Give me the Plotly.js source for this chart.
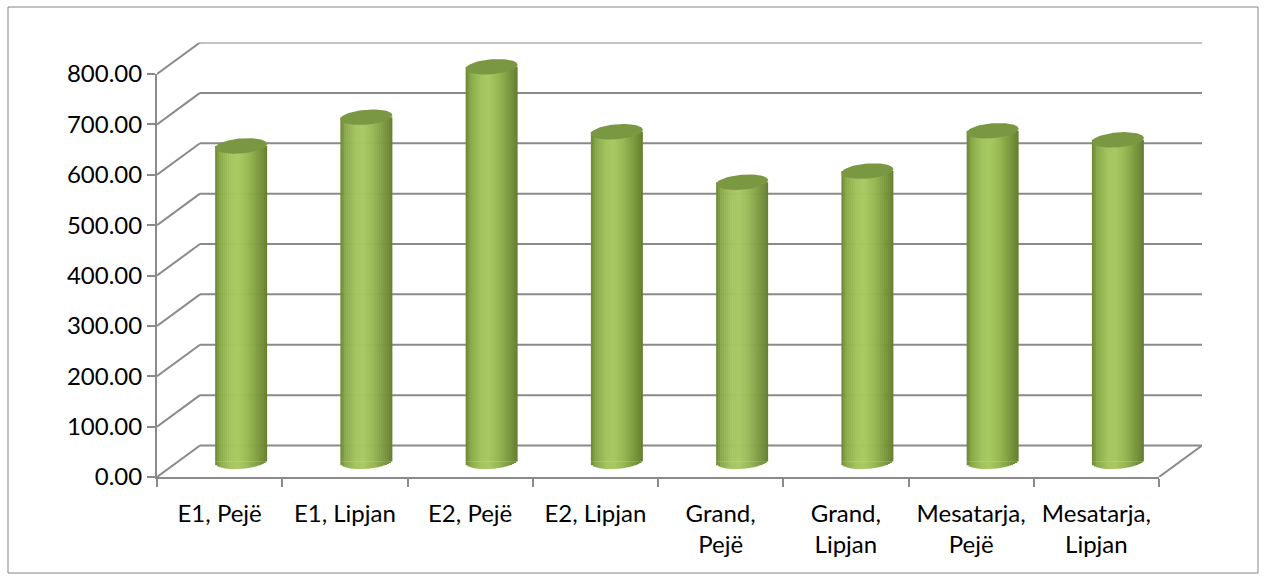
<!DOCTYPE html>
<html>
<head>
<meta charset="utf-8">
<script src="https://cdn.plot.ly/plotly-3.0.1.min.js"></script>
<style>
  html, body { margin: 0; padding: 0; background: #ffffff; }
  #chart { width: 1266px; height: 580px; }
</style>
</head>
<body>
<div id="chart"></div>
<script>
// ---- data ----
const categories = ['E1, Pejë', 'E1, Lipjan', 'E2, Pejë', 'E2, Lipjan',
                    'Grand, Pejë', 'Grand, Lipjan', 'Mesatarja, Pejë', 'Mesatarja, Lipjan'];
const tickLabels = ['E1, Pejë', 'E1, Lipjan', 'E2, Pejë', 'E2, Lipjan',
                    'Grand,<br>Pejë', 'Grand,<br>Lipjan', 'Mesatarja,<br>Pejë', 'Mesatarja,<br>Lipjan'];
const values = [626, 683, 783, 654, 554, 576, 656, 638];
const yTicks = [0, 100, 200, 300, 400, 500, 600, 700, 800];

// ---- page geometry (pixels) ----
const W = 1266, H = 580;
const L = 157, R = 1159, B = 477, T = 74;   // front face of the plot box
const DEPTH_X = 43, DEPTH_Y = 31.5;          // oblique shift of the back wall
const YMAX = 800;
const ppu = (B - T) / YMAX;                   // pixels per value unit
const catPx = (R - L) / categories.length;    // pixels per category

const fx = (a, b) => [a / W, b / W];
const fy = (bottom, top) => [1 - bottom / H, 1 - top / H];

const gridColor = '#8a8a8a';
const fontFamily = 'Lato, "Open Sans", "Liberation Sans", sans-serif';

// depth in axis units
const DX = DEPTH_X / catPx;
const DY = DEPTH_Y / ppu;

// ---- walls and floor (oblique frame) ----
const wallX = [], wallY = [];
yTicks.forEach(v => {
  // back wall gridline
  wallX.push(-0.5 + DX, categories.length - 0.5 + DX, null);
  wallY.push(v + DY, v + DY, null);
  // side wall diagonal
  wallX.push(-0.5, -0.5 + DX, null);
  wallY.push(v, v + DY, null);
});
// floor, right edge
wallX.push(categories.length - 0.5, categories.length - 0.5 + DX, null);
wallY.push(0, DY, null);

const traces = [];

// front axes carrier (category axis with labels)
traces.push({
  type: 'scatter', mode: 'markers', x: tickLabels, y: values,
  marker: { opacity: 0 }, hoverinfo: 'skip', showlegend: false,
  xaxis: 'x', yaxis: 'y'
});

traces.push({
  type: 'scatter', mode: 'lines', x: wallX, y: wallY,
  line: { color: gridColor, width: 2 }, hoverinfo: 'skip', showlegend: false,
  cliponaxis: false, xaxis: 'x2', yaxis: 'y2'
});

// ---- cylinders ----
const cylW = 52 / catPx;            // cylinder width in category units
const capB = 7.5;                   // ellipse half height (px)
const capS = 2;                     // ellipse tilt (px, right side higher)
const N = 26;                       // shading strips
const stops = [
  [0.00, [106, 134, 50]],
  [0.10, [138, 170, 75]],
  [0.30, [163, 196, 94]],
  [0.45, [167, 200, 98]],
  [0.62, [152, 185, 83]],
  [0.80, [128, 158, 66]],
  [0.92, [112, 140, 55]],
  [1.00, [98, 124, 46]]
];
function shade(t) {
  for (let i = 1; i < stops.length; i++) {
    if (t <= stops[i][0]) {
      const [t0, c0] = stops[i - 1], [t1, c1] = stops[i];
      const f = (t - t0) / (t1 - t0);
      const c = c0.map((v, j) => Math.round(v + (c1[j] - v) * f));
      return `rgb(${c[0]},${c[1]},${c[2]})`;
    }
  }
  const c = stops[stops.length - 1][1];
  return `rgb(${c[0]},${c[1]},${c[2]})`;
}

const idx = categories.map((_, i) => i);
const w = cylW / N;
for (let k = 0; k < N; k++) {
  const u = -1 + (2 * k + 1) / N;
  const color = shade((k + 0.5) / N);
  const off = -cylW / 2 + k * w;
  const wid = k === N - 1 ? w : w * 1.25;
  // body
  traces.push({
    type: 'bar', x: idx, y: values, offset: off, width: wid,
    marker: { color: color, line: { width: 0 } },
    hoverinfo: 'skip', showlegend: false, cliponaxis: false,
    xaxis: 'x3', yaxis: 'y3'
  });
  // rounded bottom
  const arc = (capB * Math.sqrt(1 - u * u) - capS * u) / ppu;
  if (arc > 0) {
    traces.push({
      type: 'bar', x: idx, y: idx.map(() => arc), base: idx.map(() => -arc),
      offset: off, width: wid,
      marker: { color: color, line: { width: 0 } },
      hoverinfo: 'skip', showlegend: false, cliponaxis: false,
      xaxis: 'x3', yaxis: 'y3'
    });
  }
}

// top faces
const topX = [], topY = [];
values.forEach((v, i) => {
  for (let j = 0; j <= 72; j++) {
    const t = (j / 72) * 2 * Math.PI;
    topX.push(i + (cylW / 2) * Math.cos(t));
    topY.push(v + (capB * Math.sin(t) + capS * Math.cos(t)) / ppu);
  }
  topX.push(null); topY.push(null);
});
traces.push({
  type: 'scatter', mode: 'lines', x: topX, y: topY, fill: 'toself',
  fillcolor: '#7a9742', line: { width: 0, color: '#7a9742' },
  hoverinfo: 'skip', showlegend: false, cliponaxis: false,
  xaxis: 'x3', yaxis: 'y3'
});

const hidden = { visible: false, fixedrange: true };
const cylLow = -40, cylHigh = 840;
const baseY = B - DEPTH_Y / 2;

const layout = {
  width: W, height: H,
  margin: { l: 0, r: 0, t: 0, b: 0 },
  paper_bgcolor: '#ffffff', plot_bgcolor: 'rgba(0,0,0,0)',
  showlegend: false, hovermode: false, barmode: 'overlay',
  font: { family: fontFamily, size: 24, color: '#000000' },
  xaxis: {
    domain: fx(L, R), type: 'category', range: [-0.5, categories.length - 0.5],
    tickson: 'boundaries', ticks: 'outside', ticklen: 8, tickwidth: 2, tickcolor: gridColor,
    ticklabelstandoff: 14,
    showline: true, linecolor: gridColor, linewidth: 2, showgrid: false, zeroline: false,
    tickfont: { family: fontFamily, size: 24, color: '#000000' }, fixedrange: true
  },
  yaxis: {
    domain: fy(B, T), range: [0, YMAX], tickvals: yTicks, tickformat: '.2f',
    ticks: 'outside', ticklen: 8, tickwidth: 2, tickcolor: gridColor,
    showline: true, linecolor: gridColor, linewidth: 2, showgrid: false, zeroline: false,
    tickfont: { family: fontFamily, size: 24, color: '#000000' }, fixedrange: true
  },
  xaxis2: Object.assign({ domain: fx(L, R + DEPTH_X), range: [-0.5, categories.length - 0.5 + DX], anchor: 'y2' }, hidden),
  yaxis2: Object.assign({ domain: fy(B, B - (YMAX * ppu + DEPTH_Y)), range: [0, YMAX + DY], anchor: 'x2' }, hidden),
  xaxis3: Object.assign({ domain: fx(L + DEPTH_X / 2, R + DEPTH_X / 2), range: [-0.5, categories.length - 0.5], anchor: 'y3' }, hidden),
  yaxis3: Object.assign({ domain: fy(baseY - cylLow * ppu, baseY - cylHigh * ppu), range: [cylLow, cylHigh], anchor: 'x3' }, hidden),
  shapes: [{
    type: 'rect', xref: 'paper', yref: 'paper',
    x0: 8 / W, x1: 1258 / W, y0: 1 - 573 / H, y1: 1 - 7 / H,
    line: { color: '#868686', width: 1 }, fillcolor: 'rgba(0,0,0,0)', layer: 'below'
  }]
};

Plotly.newPlot('chart', traces, layout, { staticPlot: true, displayModeBar: false });
</script>
</body>
</html>
